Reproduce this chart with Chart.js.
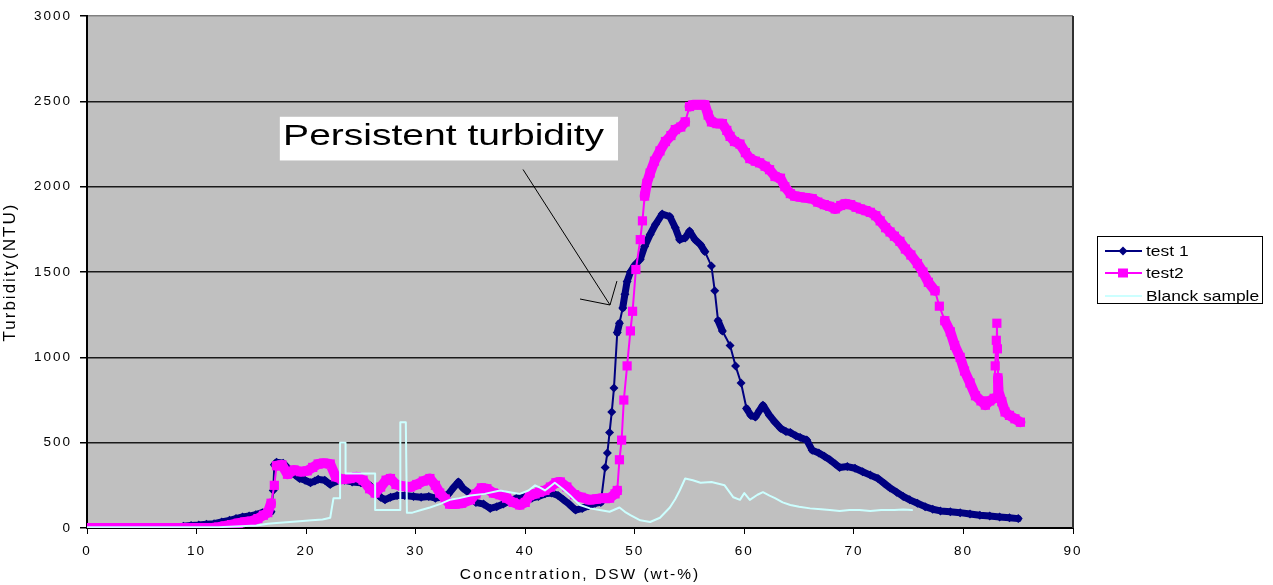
<!DOCTYPE html>
<html><head><meta charset="utf-8">
<script src="https://cdn.jsdelivr.net/npm/chart.js@4.4.1/dist/chart.umd.min.js"></script>
<style>html,body{margin:0;padding:0;background:#fff}#wrap{width:1273px;height:585px;position:relative}</style>
</head><body><div id="wrap"><canvas id="c"></canvas></div>
<script>
// ---- data ----
const test1X=[8.8,9.5,10.2,10.9,11.6,12.3,13,13.6,14.2,14.8,15.4,16,16.8,17.0,17.1,17.3,17.9,18.5,19,19.4,19.9,20.4,20.8,21.1,21.7,22.2,22.8,23.5,24.2,25,25.8,26.4,26.8,27.2,27.7,28.3,29,29.8,30.5,31.2,31.8,32.4,33,33.5,33.9,34.3,34.8,35.5,36.2,36.8,37.4,38,38.6,39.2,39.9,40.6,41.2,41.8,42.4,43,43.5,44,44.6,45.2,45.8,46.4,46.9,47.3,47.5,47.7,47.9,48.1,48.4,48.6,48.9,49.1,49.3,49.6,50.0,50.5,50.9,51.4,51.9,52.5,53.2,53.7,54.1,54.6,55.0,55.5,56.0,56.4,57.0,57.3,57.6,58,58.7,59.2,59.7,60.2,60.6,61,61.4,61.7,62.3,62.8,63.3,63.8,64.2,64.7,65.1,65.7,66.2,66.8,67.3,67.8,68.3,68.7,69.4,70.1,70.8,71.5,72.2,72.8,73.3,73.9,74.5,75.1,75.8,76.5,77.2,77.9,78.8,79.7,80.6,81.5,82.4,83.3,84.2,85];
const test1Y=[10,15,18,22,25,35,45,55,65,70,78,90,95,220,370,385,380,340,310,290,280,265,275,285,280,255,275,280,270,265,250,210,180,165,180,190,190,185,180,185,175,180,200,240,270,235,210,150,140,115,125,140,160,175,180,175,185,200,205,190,165,140,105,115,130,145,150,355,440,560,680,820,1145,1200,1290,1370,1445,1500,1540,1575,1650,1720,1780,1840,1825,1760,1690,1700,1740,1690,1660,1620,1535,1390,1215,1155,1070,950,850,700,660,650,690,720,660,620,585,565,560,540,530,515,455,440,420,400,375,355,360,350,330,310,290,260,235,210,185,165,145,125,110,100,95,90,82,75,70,65,60,55];

const test2X=[0,0.6,1.2,1.8,2.4,3,3.6,4.2,4.8,5.4,6,6.6,7.2,7.8,8.4,9,9.6,10.2,10.8,11.4,12,12.6,13.2,13.8,14.4,15,15.6,16.1,16.5,16.8,17.1,17.3,17.8,18.3,18.9,19.5,20.1,20.6,21.1,21.6,22.2,22.7,23.3,24,24.6,25.2,25.8,26.3,26.8,27.3,27.7,28.2,28.8,29.5,30.1,30.7,31.3,31.8,32.2,32.7,33.1,33.6,34.2,35,35.5,36,36.5,37.1,37.7,38.3,38.9,39.5,40,40.4,40.9,41.3,41.8,42.3,42.8,43.2,43.8,44.5,45.1,45.9,46.5,47.1,47.7,48.2,48.4,48.6,48.8,49,49.3,49.6,49.8,50.1,50.5,50.7,50.9,51.1,51.4,51.8,52.3,52.8,53.3,53.7,54.2,54.6,55,55.3,55.7,56.1,56.4,56.7,57,57.5,58,58.4,58.7,59.1,59.6,60.1,60.5,61,61.4,61.9,62.3,62.8,63.3,63.7,64.2,64.6,65.1,65.6,66.2,66.7,67.3,67.8,68.3,68.8,69.2,69.7,70.2,70.6,71.1,71.5,72,72.4,72.9,73.3,73.7,74.2,74.7,75.2,75.8,76.3,76.8,77.4,77.8,78.3,78.8,79.2,79.7,80.1,80.6,81.1,81.6,82,82.4,82.8,82.9,83,83.05,83.1,83.15,83.2,83.5,83.8,84.2,84.7,85.2];
const test2Y=[0,0,0,0,0,0,0,0,0,0,0,0,0,0,0,0,0,0,0,0,5,12,20,28,35,40,55,75,90,145,250,365,370,315,340,330,335,355,375,380,375,300,285,290,300,280,230,205,240,280,290,255,245,240,255,275,290,250,205,170,140,140,145,165,200,235,230,205,195,175,150,135,150,190,200,210,220,240,265,270,240,195,180,165,170,175,175,200,220,400,515,750,950,1155,1270,1515,1690,1800,1945,2020,2080,2150,2210,2265,2300,2335,2350,2380,2470,2480,2480,2480,2480,2420,2380,2370,2370,2330,2295,2265,2250,2200,2165,2150,2140,2120,2100,2060,2050,2000,1960,1945,1940,1935,1930,1910,1895,1885,1870,1890,1900,1895,1880,1870,1860,1850,1830,1800,1760,1735,1710,1680,1635,1600,1550,1500,1440,1390,1300,1215,1150,1070,1000,920,850,775,745,720,745,760,950,1100,1200,1050,880,800,740,680,660,640,620];

const blankX=[0,2,4,6,8,10,12,14,15.5,16.5,17.3,18.5,19.4,20.5,21.5,22.2,22.5,23.1,23.1,23.6,23.6,25.5,26.3,26.3,28.6,28.6,29.1,29.2,29.7,30.5,31.3,32.2,33.1,34,35,36.3,37.7,38.6,39.5,40.3,40.9,41.4,41.8,42.3,42.7,43.4,44.1,44.5,45,45.9,46.8,47.7,48.6,49.1,49.6,50.5,51.4,52.3,53.2,53.7,54.1,54.6,55.3,56,57,58.2,59,59.6,60,60.5,61.2,61.7,62.3,62.8,63.5,64.2,65,66,67,67.8,68.7,69.6,70.5,71.5,72.5,73.7,74.5,75.3];
const blankY=[5,5,5,5,5,5,5,10,15,25,30,35,40,45,50,60,175,175,500,500,320,320,320,105,105,620,620,90,90,105,120,140,165,175,190,200,220,210,200,220,250,235,220,245,265,230,190,165,135,115,105,95,120,95,75,45,35,60,120,170,220,290,280,265,270,250,180,165,205,165,195,210,190,175,150,135,125,115,110,105,100,105,105,100,105,105,108,105];

const seriesLabels=["test 1","test2","Blanck sample"];
const seriesColors=["#000080","#FF00FF","#CCFFFF"];
const xTicks=[0,10,20,30,40,50,60,70,80,90];
const yTicks=[0,500,1000,1500,2000,2500,3000];
const xTitle="Concentration, DSW (wt-%)";
const yTitle="Turbidity(NTU)";
const annotationText="Persistent turbidity";

// annotation geometry in data units
const annBox={x0:17.6,x1:48.47,y0:2410,y1:2154,tx:17.9,ty:2247};
const annArrow={x0:39.8,y0:2101,x1:47.74,y1:1307,w1x:45.0,w1y:1342,w2x:48.37,w2y:1447};

const pts=(xs,ys)=>xs.map((x,i)=>({x:x,y:ys[i]}));

function stretchedText(ctx,text,x,y,font,sx,align){
  ctx.save();
  ctx.letterSpacing='0px';
  ctx.font=font;
  ctx.textBaseline='alphabetic';
  ctx.textAlign='left';
  const w=ctx.measureText(text).width*sx;
  let x0=x; if(align==='center')x0=x-w/2; else if(align==='right')x0=x-w;
  ctx.translate(x0,y); ctx.scale(sx,1);
  ctx.fillText(text,0,0);
  ctx.restore();
}

// thicker stroke where markers crowd together (shallow segments), thin on steep jumps
const segWidth=(thick)=>(c)=>{
  const dx=Math.abs(c.p1.x-c.p0.x),dy=Math.abs(c.p1.y-c.p0.y);
  return (dy>14 && dy>1.5*dx)?2:thick;
};

const deco={
  id:'deco',
  beforeUpdate(chart){chart.ctx.letterSpacing='2px';},
  beforeDraw(chart){
    const ctx=chart.ctx,a=chart.chartArea;
    ctx.letterSpacing='2px';
    ctx.save();ctx.fillStyle='#C0C0C0';ctx.fillRect(a.left,a.top,a.right-a.left,a.bottom-a.top);ctx.restore();
  },
  afterDraw(chart){
    const ctx=chart.ctx,a=chart.chartArea,xs=chart.scales.x,ys=chart.scales.y;
    ctx.save();
    ctx.strokeStyle='#303030';ctx.lineWidth=2;
    ctx.beginPath();ctx.moveTo(a.right,a.top);ctx.lineTo(a.right,a.bottom);ctx.stroke();
    const bx0=xs.getPixelForValue(annBox.x0),bx1=xs.getPixelForValue(annBox.x1);
    const by0=ys.getPixelForValue(annBox.y0),by1=ys.getPixelForValue(annBox.y1);
    ctx.fillStyle='#FFFFFF';ctx.fillRect(bx0,by0,bx1-bx0,by1-by0);
    ctx.fillStyle='#000';
    ctx.font='29px "Liberation Sans", Arial, sans-serif';
    ctx.letterSpacing='0px';
    const nat=ctx.measureText(annotationText).width;
    const tx=xs.getPixelForValue(annBox.tx);
    stretchedText(ctx,annotationText,tx,ys.getPixelForValue(annBox.ty),'29px "Liberation Sans", Arial, sans-serif',(bx1-tx-14)/nat,'left');
    ctx.strokeStyle='#000';ctx.lineWidth=1;
    const P=(x,y)=>[xs.getPixelForValue(x),ys.getPixelForValue(y)];
    const s=P(annArrow.x0,annArrow.y0),t=P(annArrow.x1,annArrow.y1),w1=P(annArrow.w1x,annArrow.w1y),w2=P(annArrow.w2x,annArrow.w2y);
    ctx.beginPath();ctx.moveTo(s[0],s[1]);ctx.lineTo(t[0],t[1]);
    ctx.moveTo(w1[0],w1[1]);ctx.lineTo(t[0],t[1]);ctx.lineTo(w2[0],w2[1]);ctx.stroke();
    const lx=1097.5,ly=236.5,lw=165,lh=67;
    ctx.fillStyle='#fff';ctx.fillRect(lx,ly,lw,lh);
    ctx.strokeStyle='#000';ctx.lineWidth=1;ctx.strokeRect(lx,ly,lw,lh);
    const rows=[251,273,296];
    chart.data.datasets.forEach((ds,i)=>{
      const y=rows[i];
      ctx.strokeStyle=ds.borderColor;ctx.lineWidth=2;
      ctx.beginPath();ctx.moveTo(1105,y);ctx.lineTo(1142,y);ctx.stroke();
      ctx.fillStyle=ds.borderColor;
      const cx=1123;
      if(ds.pointStyle==='rectRot'){ctx.beginPath();ctx.moveTo(cx,y-4.5);ctx.lineTo(cx+4.5,y);ctx.lineTo(cx,y+4.5);ctx.lineTo(cx-4.5,y);ctx.closePath();ctx.fill();}
      else if(ds.pointStyle==='rect'){ctx.fillRect(cx-5,y-4.5,10,9);}
      ctx.fillStyle='#000';
      stretchedText(ctx,ds.label,1146,y+5,'14.5px "Liberation Sans", Arial, sans-serif',1.2,'left');
    });
    ctx.restore();
  }
};

const ctxEl=document.getElementById('c');
const tickFont={family:'"Liberation Sans", Arial, sans-serif',size:13.5};
new Chart(ctxEl,{
  type:'scatter',
  data:{datasets:[
    {label:seriesLabels[0],data:pts(test1X,test1Y),showLine:true,borderColor:seriesColors[0],backgroundColor:seriesColors[0],borderWidth:2,segment:{borderWidth:segWidth(7)},pointStyle:'rectRot',pointRadius:4.5,pointBorderWidth:0,order:2},
    {label:seriesLabels[1],data:pts(test2X,test2Y),showLine:true,borderColor:seriesColors[1],backgroundColor:seriesColors[1],borderWidth:2,segment:{borderWidth:segWidth(10)},pointStyle:'rect',pointRadius:6.5,pointBorderWidth:0,order:1},
    {label:seriesLabels[2],data:pts(blankX,blankY),showLine:true,borderColor:seriesColors[2],backgroundColor:seriesColors[2],borderWidth:2,pointRadius:0,order:0}
  ]},
  options:{
    responsive:true,maintainAspectRatio:false,animation:false,
    layout:{padding:{left:0,right:200,top:14,bottom:0}},
    plugins:{legend:{display:false},tooltip:{enabled:false}},
    elements:{line:{tension:0,borderJoinStyle:'round',borderCapStyle:'round'}},
    scales:{
      x:{type:'linear',min:0,max:90,
        afterBuildTicks:s=>{s.ticks=xTicks.map(v=>({value:v}));},
        afterFit:s=>{s.height=57;},
        grid:{display:true,drawOnChartArea:false,drawTicks:true,tickLength:6,tickColor:'#000',color:'#000'},
        border:{display:true,color:'#000',width:2},
        ticks:{color:'#000',font:tickFont,padding:9,maxRotation:0,autoSkip:false,callback:v=>String(v)},
        title:{display:true,text:xTitle,color:'#000',font:{family:'"Liberation Sans", Arial, sans-serif',size:15.5},padding:{top:0,bottom:1}}
      },
      y:{type:'linear',min:0,max:3000,
        afterBuildTicks:s=>{s.ticks=yTicks.map(v=>({value:v}));},
        afterFit:s=>{s.width=87;},
        grid:{display:true,drawOnChartArea:true,drawTicks:true,tickLength:7,tickColor:'#000',lineWidth:1.5,color:c=>(c.tick&&c.tick.value===3000)?'#808080':'#1a1a1a'},
        border:{display:true,color:'#000',width:2},
        ticks:{color:'#000',font:tickFont,padding:8,autoSkip:false,callback:v=>String(v)},
        title:{display:true,text:yTitle,color:'#000',font:{family:'"Liberation Sans", Arial, sans-serif',size:17},padding:{top:0,bottom:2}}
      }
    }
  },
  plugins:[deco]
});
</script></body></html>
